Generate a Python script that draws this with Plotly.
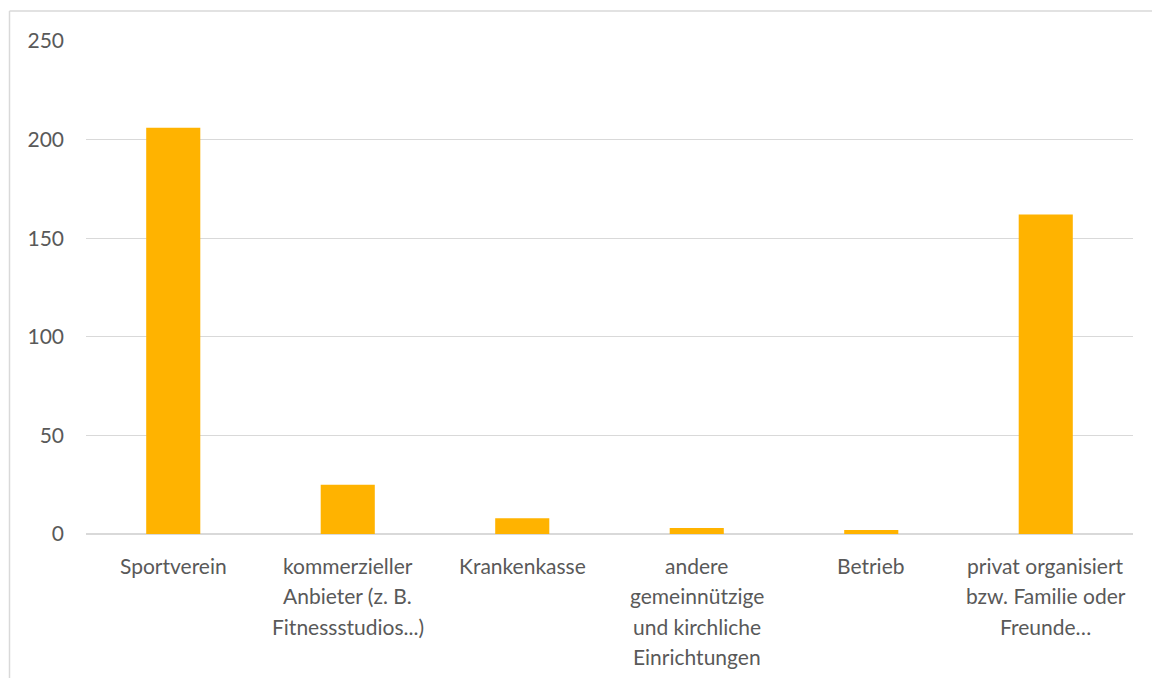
import plotly.graph_objects as go

categories = ["Sportverein",
              "kommerzieller Anbieter (z. B. Fitnessstudios...)",
              "Krankenkasse",
              "andere gemeinnützige und kirchliche Einrichtungen",
              "Betrieb",
              "privat organisiert bzw. Familie oder Freunde…"]
label_lines = [["Sportverein"],
               ["kommerzieller", "Anbieter (z. B.", "Fitnessstudios...)"],
               ["Krankenkasse"],
               ["andere", "gemeinnützige", "und kirchliche", "Einrichtungen"],
               ["Betrieb"],
               ["privat organisiert", "bzw. Familie oder", "Freunde…"]]
values = [206, 25, 8, 3, 2, 162]
y_ticks = [0, 50, 100, 150, 200, 250]

FONT = "Lato"
FS = 21
TXT = "#595959"
GRID = "#d9d9d9"

fig = go.Figure(go.Bar(x=categories, y=values, marker=dict(color="#FFB300", line=dict(width=0)),
                       width=0.31, hoverinfo="skip"))

annotations = []
for cat, lines in zip(categories, label_lines):
    for i, ln in enumerate(lines):
        annotations.append(dict(x=cat, xref="x", y=0, yref="paper", text=ln, showarrow=False,
                                xanchor="center", yanchor="middle", yshift=-31 - 30.5 * i,
                                font=dict(family=FONT, size=FS, color=TXT)))

W, H = 1152, 678
l, t = 86, 41
r = W - 1133
b = H - 534
pw, ph = W - l - r, H - t - b
def px(xs): return (xs - l) / pw
def py(ys): return (H - b - ys) / ph

shapes = [
    dict(type="line", xref="paper", yref="paper", x0=px(9.5), x1=px(1152), y0=py(11), y1=py(11),
         line=dict(color=GRID, width=1.5)),
    dict(type="line", xref="paper", yref="paper", x0=px(9.5), x1=px(9.5), y0=py(11), y1=py(678),
         line=dict(color=GRID, width=1.5)),
]

fig.update_layout(
    width=W, height=H,
    margin=dict(l=l, r=r, t=t, b=b, pad=0),
    paper_bgcolor="white", plot_bgcolor="white",
    showlegend=False,
    font=dict(family=FONT, size=FS, color=TXT),
    xaxis=dict(showticklabels=False, showgrid=False, zeroline=False, showline=False, ticks=""),
    yaxis=dict(range=[0, 250], tickvals=y_ticks, showgrid=True, gridcolor=GRID, gridwidth=1,
               zeroline=True, zerolinecolor=GRID, zerolinewidth=1.5, showline=False,
               ticks="", ticklabelstandoff=21, tickfont=dict(family=FONT, size=FS, color=TXT)),
    annotations=annotations,
    shapes=shapes,
)
fig.write_html("out.html",
               config={"displayModeBar": False},
               post_script="document.body.style.margin='0';document.body.style.overflow='hidden';"
                           "document.documentElement.style.overflow='hidden';")
